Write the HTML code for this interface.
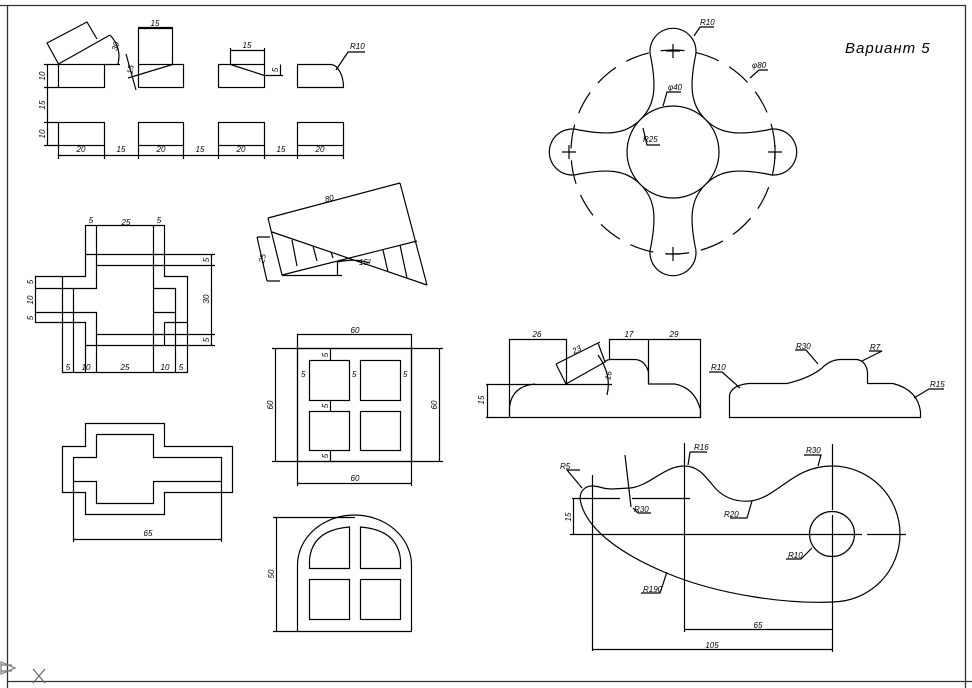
<!DOCTYPE html>
<html><head><meta charset="utf-8"><style>
html,body{margin:0;padding:0;background:#fff}
svg{display:block}
text{font-family:"Liberation Sans",sans-serif;font-style:italic;font-size:8px;fill:#000}
</style></head><body>
<svg width="972" height="688" viewBox="0 0 972 688" xmlns="http://www.w3.org/2000/svg">
<g fill="none" stroke="#000" stroke-width="1.2">
<!-- border -->
<path d="M0 5.5H965.5V688M7.5 5.5V688M7 681.5H972" stroke="#333" stroke-width="1.3"/>
<path d="M1 662 L15 668 L1 674 Z M1 665H12M1 671H12" stroke="#777"/>
<path d="M33 669 L45 683 M45 669 L33 683" stroke="#666"/>

<!-- top-left blocks -->
<rect x="58.5" y="64.5" width="46" height="23"/>
<rect x="138.5" y="64.5" width="45" height="23"/>
<rect x="218.5" y="64.5" width="46" height="23"/>
<path d="M297.5 64.5H331 A13 23 0 0 1 343.5 87.5 H297.5Z"/>
<rect x="58.5" y="122.5" width="46" height="23"/>
<rect x="138.5" y="122.5" width="45" height="23"/>
<rect x="218.5" y="122.5" width="46" height="23"/>
<rect x="297.5" y="122.5" width="46" height="23"/>
<path d="M47.5 64.5V145.5M44 64.5H58M44 87.5H58M44 122.5H58M44 145.5H58"/>
<path d="M58.5 145V159M104.5 145V159M138.5 145V159M183.5 145V159M218.5 145V159M264.5 145V159M297.5 145V159M343.5 145V159M58 155.5H344"/>
<path d="M58.5 64 L47 43 L87 22 L97 39 M58.5 64 L110 35 M104 64.5H120 M110 35 Q122 48 118 64"/>
<path d="M138.5 64V28.5H172.5V64M138 27.5H173M172.5 64.5L128 78M126 54Q131 72 136 90"/>
<path d="M230.5 64.5L264.5 75.5M230.5 64V48M264.5 64V48M230 50.5H265M264 75.5H283M280.5 64.5V75.5"/>
<path d="M336 70L348 52H365"/>

<!-- cross 1 -->
<path d="M85.5 225V276.5H35M96.5 225V288.5H35M153.5 225V372M164.5 225V276.5H187.5V372M85 254.5H215M96 265.5H215
M35 312.5H96.5V334.5H215M35 322.5H85.5V345.5H215M153.5 288.5H175.5V372M153.5 312.5H175.5M164.5 322.5V345.5M164.5 322.5H187.5
M62.5 276V372M73.5 288V372M62 372.5H188M85.5 225.5H164M211.5 254V345M35.5 276V322M85.5 345V372M96.5 334V372"/>
<!-- cross 2 -->
<path d="M85.5 423.5H164.5V446.5H232.5V492.5H164.5V514.5H85.5V492.5H62.5V446.5H85.5Z"/>
<path d="M96.5 434.5H153.5V457.5H221.5V481.5H153.5V503.5H96.5V481.5H73.5V457.5H96.5Z"/>
<path d="M73.5 481V542M221.5 481V542M73 539.5H222"/>

<!-- oblique -->
<path d="M268 218L400 183M268 218L282 275M400 183L427 285M272 232L427 285M282 275L417 241M257 237L267 281M257 237H270M267 281H280
M292 240L297 266M313 246L317 261M331 252L333 258M383 250L388 272M400 245L407 278M282 275.5H342M337.5 262V275M337 262Q355 258 370 263"/>

<!-- window grid -->
<rect x="297.5" y="348.5" width="114" height="113"/>
<rect x="309.5" y="360.5" width="40" height="40"/>
<rect x="360.5" y="360.5" width="40" height="40"/>
<rect x="309.5" y="411.5" width="40" height="39"/>
<rect x="360.5" y="411.5" width="40" height="39"/>
<path d="M297.5 334V486M411.5 334V486M297 334.5H412M297 483.5H412M275.5 348V462M439.5 348V462M272 348.5H443M272 461.5H443M330.5 348V360M330.5 400V411M330.5 450V462"/>
<!-- arch window -->
<path d="M297.5 631.5V565 A57 50 0 0 1 411.5 565V631.5Z"/>
<path d="M309.5 568.5V560 Q312 530 349.5 527V568.5Z M360.5 527Q398 530 400.5 560V568.5H360.5Z"/>
<rect x="309.5" y="579.5" width="40" height="40"/>
<rect x="360.5" y="579.5" width="40" height="40"/>
<path d="M276.5 517V631M273 517.5H355M273 631.5H298"/>

<!-- flower -->
<circle cx="673" cy="152" r="46"/>
<circle cx="673" cy="152" r="102" stroke-dasharray="24 12"/>
<g id="arm"><path d="M641 119 C656 104 656 85 651 58 A23 23 0 1 1 695 58 C690 85 690 104 705 119"/></g>
<use href="#arm" transform="rotate(90 673 152)"/>
<use href="#arm" transform="rotate(180 673 152)"/>
<use href="#arm" transform="rotate(270 673 152)"/>
<path d="M673 44V58M666 51H680M673 247V261M666 254H680M569 145V159M562 152H576M775 145V159M768 152H782"/>
<path d="M694 36L700 27H714M750 78L759 70H768M663 106L667 92H681M643 128L647 145H660"/>

<!-- profile 1 -->
<path d="M509.5 417.5H700.5V410 Q695 388 675 384H648.5V372 Q645 360 635 359.5H610 Q606 360 605 362L566 384M509.5 417V407Q512 386 535 384"/>
<path d="M486 384.5H612M486 417.5H509M487.5 384V417M509.5 339V417M566.5 339V384M609.5 339V360M648.5 339V384M700.5 339V417M509 339.5H566M609 339.5H700
M566 384L556 364M605 362L598 343M556 364L600 342M598 355Q612 375 607 395"/>
<!-- profile 2 -->
<path d="M729.5 417.5V395Q732 385 749 383.5H787Q810 378 822 368Q830 360 840 359.5H857Q866 361 867.5 372V383.5H893Q918 390 920.5 412V417.5Z"/>
<path d="M709 372H722L740 388M795 350H806L818 364M869 351H882L862 361M929 389H944M929 389L914 398"/>

<!-- cam -->
<path d="M580 499 C580 490 586 486 592 486 C600 486 602 489 612 489 L630 488 C650 486 664 466 684 466 C700 466 706 478 716 489 C726 499 738 502 750 501 C778 498 792 466 832 466 A68 68 0 0 1 832 602 C790 604 720 596 664 572 C624 555 585 530 580 499Z"/>
<circle cx="832" cy="534" r="22.5"/>
<path d="M570 534.5H862M867 534.5H906M572 498.5H620M632 498.5H690M592.5 475V651M684.5 443V632M832.5 444V510M832.5 515V652M625 455L631 507
M684 629.5H832M592 649.5H832M573.5 499V534"/>
<path d="M580 470H567L582 488M690 452L688 465M690 452H707M804 455H821L818 466M633 508L638 513H651M752 501L747 518H730M812 548L801 559H786M667 572L660 593H641"/>
</g>

<text x="845" y="53" style="font-size:15px;letter-spacing:1px">Вариант 5</text>
<text x="350" y="49">R10</text>
<g text-anchor="middle">
<text x="81" y="152">20</text><text x="121" y="152">15</text><text x="161" y="152">20</text><text x="200" y="152">15</text><text x="241" y="152">20</text><text x="281" y="152">15</text><text x="320" y="152">20</text>
<text x="155" y="26">15</text><text x="247" y="48">15</text>
<text x="126" y="225">25</text><text x="91" y="223">5</text><text x="159" y="223">5</text>
<text x="68" y="370">5</text><text x="86" y="370">10</text><text x="125" y="370">25</text><text x="165" y="370">10</text><text x="181" y="370">5</text>
<text x="148" y="536">65</text>
<text x="355" y="333">60</text><text x="355" y="481">60</text>
<text x="537" y="337">26</text><text x="629" y="337">17</text><text x="674" y="337">29</text>
<text x="758" y="628">65</text><text x="712" y="648">105</text>
<text x="365" y="265">15°</text>
</g>
<text x="700" y="25">R10</text><text x="752" y="68">φ80</text><text x="668" y="90">φ40</text><text x="643" y="142">R25</text>
<text x="711" y="370">R10</text><text x="796" y="349">R30</text><text x="870" y="350">R7</text><text x="930" y="387">R15</text>
<text x="560" y="469">R5</text><text x="694" y="450">R16</text><text x="806" y="453">R30</text><text x="634" y="512">R30</text><text x="724" y="517">R20</text><text x="788" y="558">R10</text><text x="643" y="592">R190</text>
<text transform="translate(330 201) rotate(-15)" text-anchor="middle">80</text>
<g text-anchor="middle">
<text transform="translate(45 76) rotate(-90)">10</text><text transform="translate(45 105) rotate(-90)">15</text><text transform="translate(45 134) rotate(-90)">10</text>
<text transform="translate(278 70) rotate(-90)">5</text>
<text transform="translate(118 47) rotate(-75)">30</text><text transform="translate(133 70) rotate(-80)">15</text>
<text transform="translate(209 260) rotate(-90)">5</text><text transform="translate(209 299) rotate(-90)">30</text><text transform="translate(209 340) rotate(-90)">5</text>
<text transform="translate(33 282) rotate(-90)">5</text><text transform="translate(33 300) rotate(-90)">10</text><text transform="translate(33 318) rotate(-90)">5</text>
<text transform="translate(265 259) rotate(-77)">25</text>
<text transform="translate(273 405) rotate(-90)">60</text><text transform="translate(437 405) rotate(-90)">60</text>
<text transform="translate(274 574) rotate(-90)">50</text>
<text transform="translate(484 400) rotate(-90)">15</text>
<text transform="translate(571 517) rotate(-90)">15</text>
<text transform="translate(578 352) rotate(-27)">23</text>
<text transform="translate(611 376) rotate(-80)">16</text>
<text transform="translate(328 355) rotate(-90)">5</text><text transform="translate(328 406) rotate(-90)">5</text><text transform="translate(328 456) rotate(-90)">5</text>
</g>
<text x="301" y="377">5</text><text x="352" y="377">5</text><text x="403" y="377">5</text>
</svg>
</body></html>
